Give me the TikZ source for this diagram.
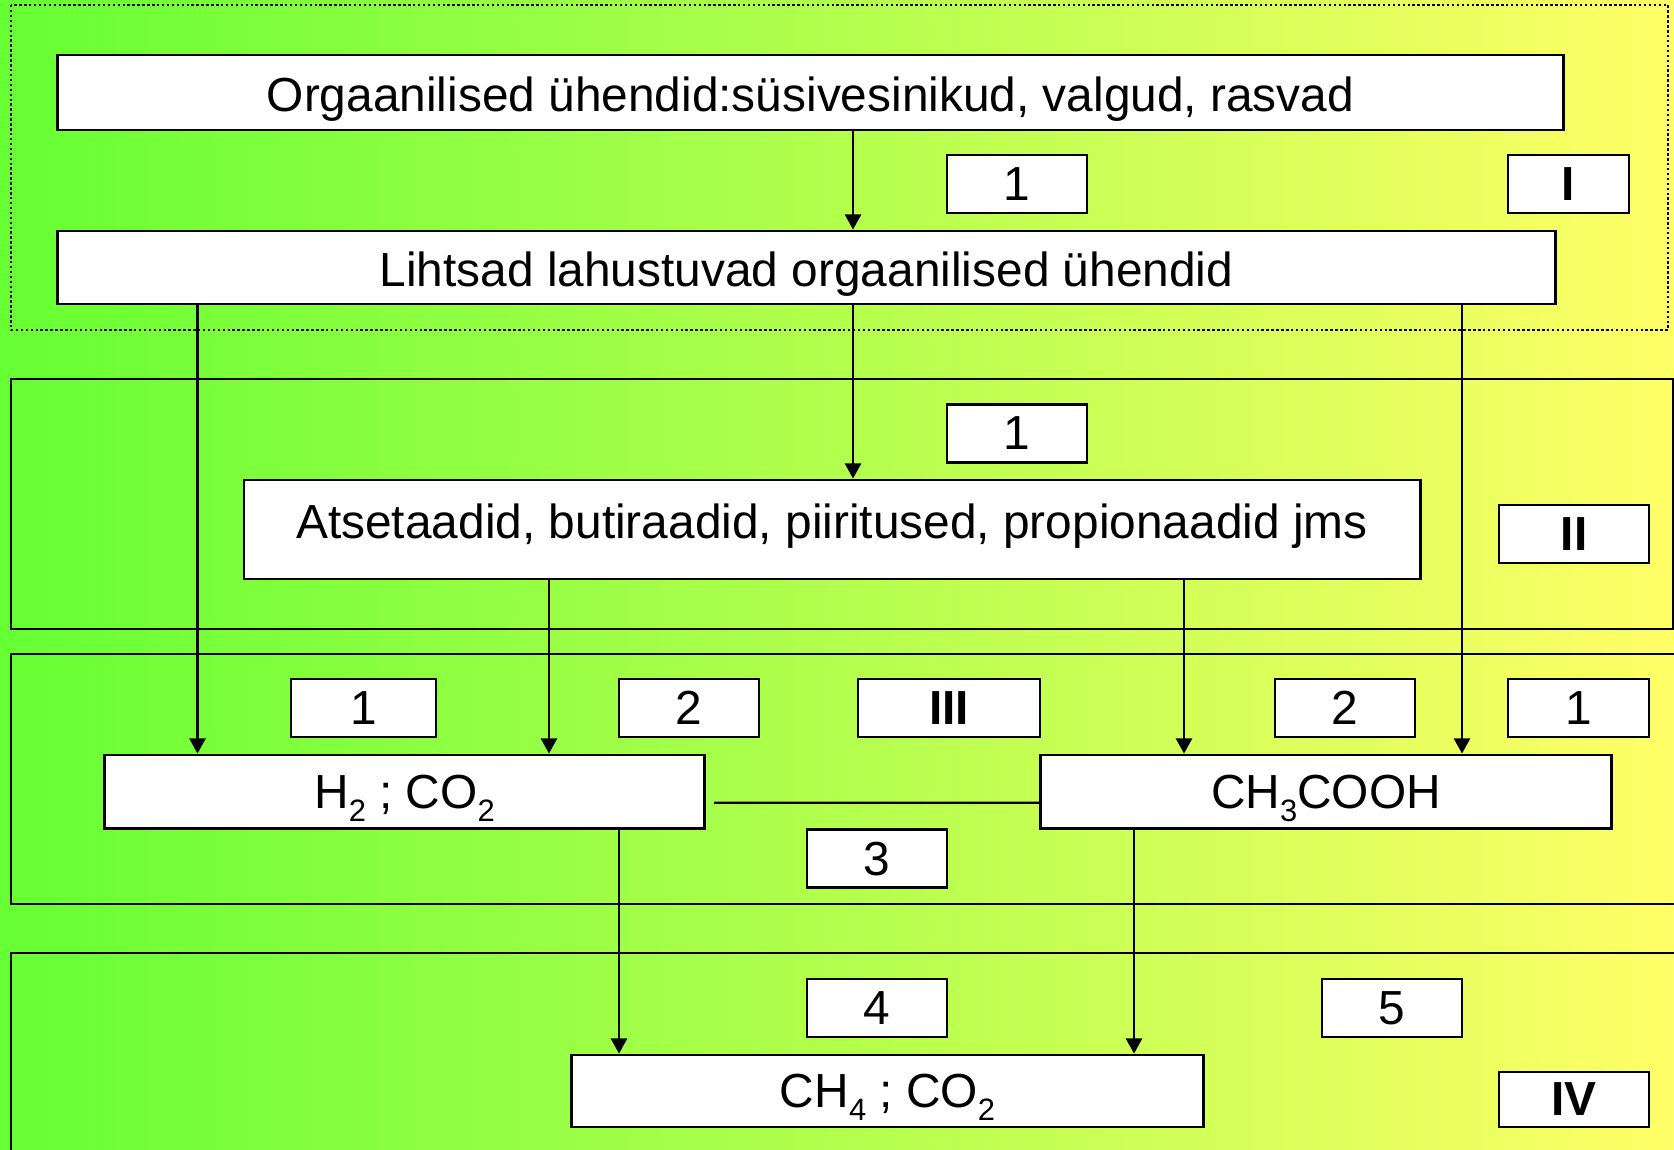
\documentclass[tikz,border=0pt]{standalone}
\usepackage{fontspec}
\setmainfont{Liberation Sans}
\usetikzlibrary{arrows.meta}
\newcommand{\chemsub}[1]{\raisebox{-0.27em}{\fontsize{8.8}{10}\selectfont #1}}
\begin{document}
\begin{tikzpicture}[x=0.01cm, y=-0.01cm, >={Triangle[length=4.3pt,width=4.6pt]}, line width=0.6pt,
    box/.style={draw, fill=white, line width=0.8pt, inner sep=0pt, text depth=0pt,
      font=\fontsize{13.6}{16}\selectfont},
    numbox/.style={box, minimum width=1.4cm, minimum height=0.58cm},
    romanbox/.style={box, minimum height=0.58cm, font=\fontsize{13.6}{16}\selectfont\bfseries},
    area/.style={draw, line width=0.6pt}]
  \clip (0,0) rectangle (1674,1149);
  \shade[left color={rgb,255:red,102;green,255;blue,51}, right color={rgb,255:red,255;green,255;blue,102}] (0,0) rectangle (1674,1149);
  % stage frames
  \draw[area, dash pattern=on 0.7pt off 0.7pt] (11,5) rectangle (1668,330);
  \draw[area] (11,379) rectangle (1673,629);
  \draw[area] (11,654) rectangle (1690,904);
  \draw[area] (11,953) rectangle (1690,1170);
  % stage I
  \node[box, minimum width=15.05cm, minimum height=0.75cm] (org) at (810.5,92.5) {\raisebox{-0.03cm}{Orgaanilised ühendid:süsivesinikud, valgud, rasvad}};
  \node[numbox] (oneA) at (1017,184) {1};
  \node[romanbox, minimum width=1.21cm] (stI) at (1568.5,184) {I};
  \node[box, minimum width=14.97cm, minimum height=0.73cm] (simple) at (806.5,267.5) {\raisebox{-0.03cm}{Lihtsad lahustuvad orgaanilised ühendid}};
  % stage II
  \node[numbox] (oneB) at (1017,433.5) {1};
  \node[box, minimum width=11.755cm, minimum height=0.99cm] (acet) at (832,529.5) {\raisebox{0.16cm}{Atsetaadid, butiraadid, piiritused, propionaadid jms}};
  \node[romanbox, minimum width=1.5cm] (stII) at (1574,534) {II};
  % stage III
  \node[numbox, minimum width=1.45cm] (oneC) at (363.5,708) {1};
  \node[numbox] (twoA) at (689,708) {2};
  \node[romanbox, minimum width=1.82cm] (stIII) at (949,708) {III};
  \node[numbox] (twoB) at (1345,708) {2};
  \node[numbox, minimum width=1.41cm] (oneD) at (1578.5,708) {1};
  \node[box, minimum width=6cm, minimum height=0.735cm] (hco) at (404.6,791.7) {H\chemsub{2} ; CO\chemsub{2}};
  \node[box, minimum width=5.7cm, minimum height=0.735cm] (acid) at (1326,791.7) {CH\chemsub{3}COOH};
  \node[numbox] (three) at (877,858.5) {3};
  % stage IV
  \node[numbox] (four) at (877,1008) {4};
  \node[numbox] (five) at (1392,1008) {5};
  \node[box, minimum width=6.31cm, minimum height=0.72cm] (meth) at (887.5,1091) {CH\chemsub{4} ; CO\chemsub{2}};
  \node[romanbox, minimum width=1.5cm, minimum height=0.55cm] (stIV) at (1574,1099.5) {IV};
  % arrow columns
  \coordinate (colA) at (853,0);
  \coordinate (colB) at (197.5,0);
  \coordinate (colC) at (549,0);
  \coordinate (colD) at (1184,0);
  \coordinate (colE) at (1462,0);
  \coordinate (colF) at (619,0);
  \coordinate (colG) at (1134,0);
  \draw[->] (org.south -| colA) -- (simple.north -| colA);
  \draw[->] (simple.south -| colA) -- (acet.north -| colA);
  \draw[->] (simple.south -| colB) -- (hco.north -| colB);
  \draw[->] (acet.south -| colC) -- (hco.north -| colC);
  \draw[->] (acet.south -| colD) -- (acid.north -| colD);
  \draw[->] (simple.south -| colE) -- (acid.north -| colE);
  \draw[->] (hco.south -| colF) -- (meth.north -| colF);
  \draw[->] (acid.south -| colG) -- (meth.north -| colG);
  \draw ([shift={(8,11)}]hco.east) -- ([yshift=-0.11cm]acid.west);
\end{tikzpicture}
\end{document}
